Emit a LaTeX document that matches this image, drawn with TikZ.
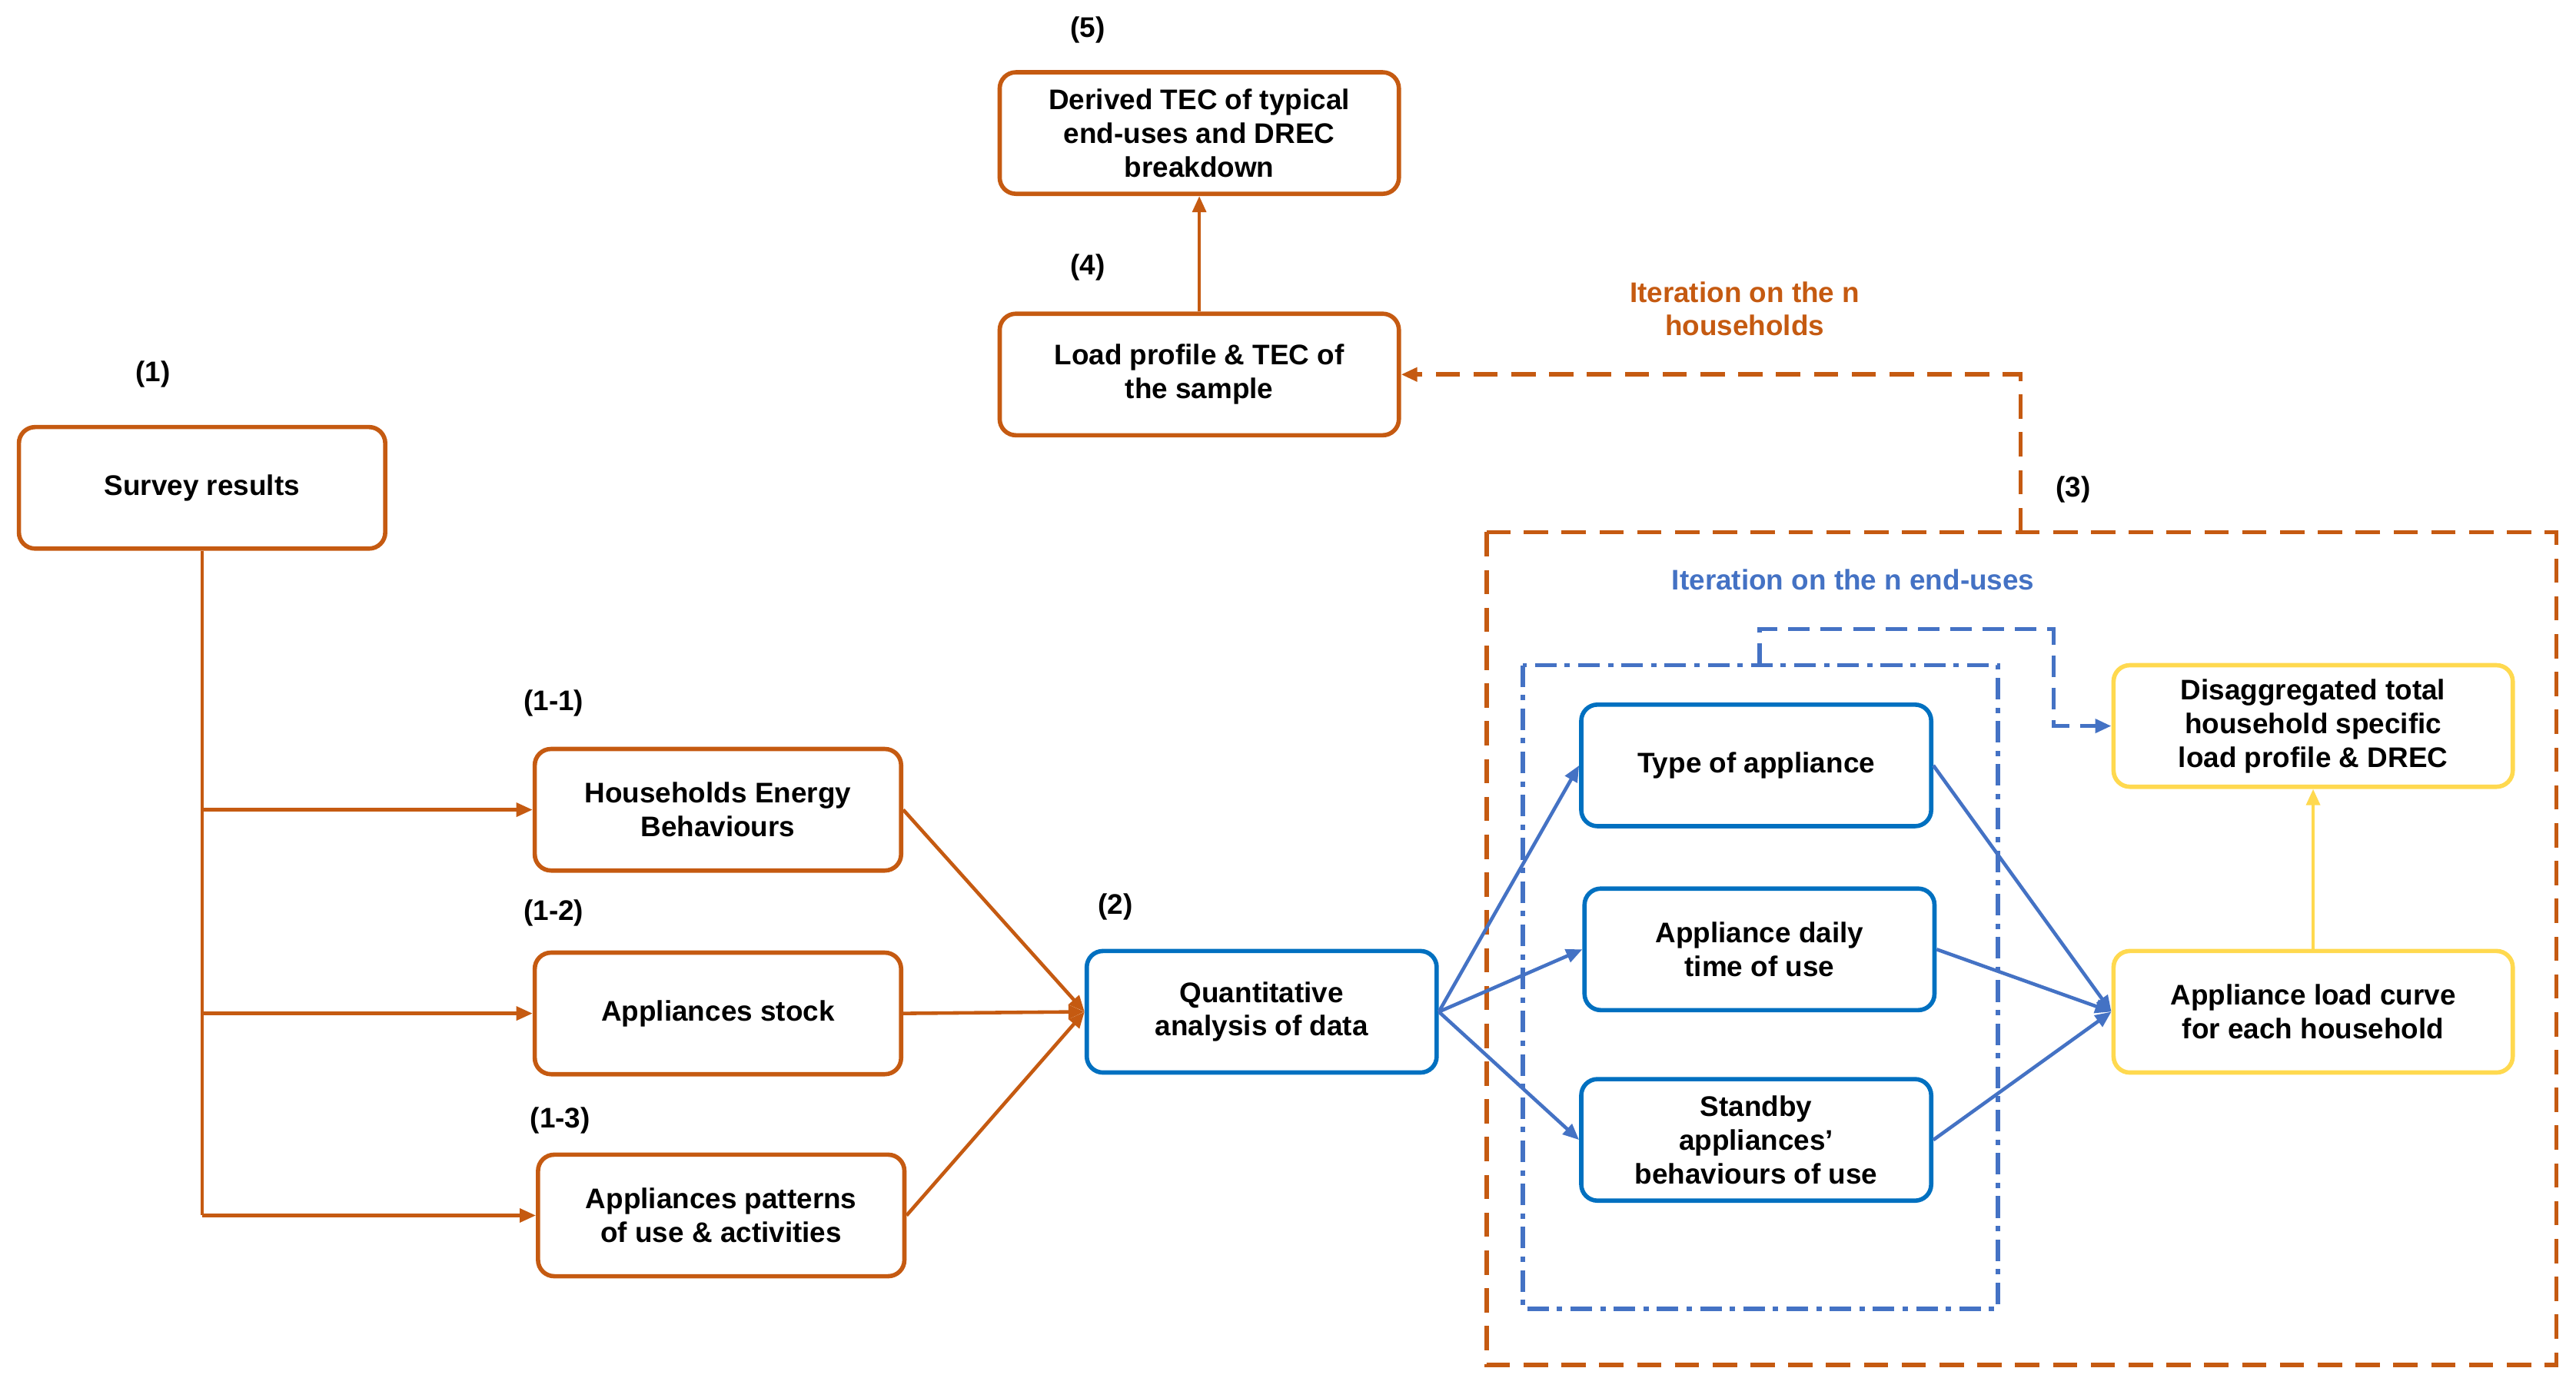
\documentclass[tikz,border=0pt]{standalone}
\usepackage{fontspec}
\setmainfont{Liberation Sans}
\usetikzlibrary{arrows.meta}
\definecolor{org}{HTML}{C55A11}
\definecolor{bbx}{HTML}{0070C0}
\definecolor{barr}{HTML}{4472C4}
\definecolor{yel}{HTML}{FFD94F}
\begin{document}
\begin{tikzpicture}[x=0.02137cm,y=-0.02137cm,
  font=\fontsize{10.5}{12.5}\selectfont\bfseries,
  box/.style={draw, line width=1.6pt, rounded corners=6pt, minimum width=223*0.02137cm, minimum height=74*0.02137cm, align=center, inner sep=1pt},
  obox/.style={box, draw=org},
  bbox/.style={box, draw=bbx, minimum width=213*0.02137cm},
  ybox/.style={box, draw=yel, minimum width=243*0.02137cm},
  lab/.style={font=\fontsize{10.5}{12.5}\selectfont\bfseries},
  oarr/.style={draw=org, line width=1.3pt, -{Triangle[length=6pt,width=5pt]}},
  barrow/.style={draw=barr, line width=1.3pt, -{Triangle[length=6pt,width=5pt]}}]
\useasboundingbox (0,0) rectangle (1568,845);
\node[obox] (s) at (123,297) {Survey results};
\node[lab] (l1) at (93,228) {(1)};
\node[obox] (heb) at (437,493) {Households Energy\\Behaviours};
\node[lab] (l11) at (337,428) {(1-1)};
\node[obox] (as) at (437,617) {Appliances stock};
\node[lab] (l12) at (337,556) {(1-2)};
\node[obox] (ap) at (439,740) {Appliances patterns\\of use \& activities};
\node[lab] (l13) at (341,682) {(1-3)};
\node[bbox] (q) at (768,616) {Quantitative\\analysis of data};
\node[lab] (l2) at (679,552) {(2)};
\node[bbox] (t) at (1069,466) {Type of appliance};
\node[bbox] (d) at (1071,578) {Appliance daily\\time of use};
\node[bbox] (sb) at (1069,694) {Standby\\appliances'\\behaviours of use};
\node[ybox] (dis) at (1408,442) {Disaggregated total\\household specific\\load profile \& DREC};
\node[ybox] (lc) at (1408,616) {Appliance load curve\\for each household};
\node[obox, minimum width=243*0.02137cm] (lp) at (730,228) {Load profile \& TEC of\\the sample};
\node[lab] (l4) at (662,163) {(4)};
\node[obox, minimum width=243*0.02137cm] (dt) at (730,81) {Derived TEC of typical\\end-uses and DREC\\breakdown};
\node[lab] (l5) at (662,18) {(5)};
\node[lab] (l3) at (1262,298) {(3)};
\node[lab, text=org, align=center] (ih) at (1062,188) {Iteration on the n\\households};
\node[lab, text=barr] (ie) at (1128,353) {Iteration on the n end-uses};
% frames
\draw[org, line width=1.6pt, dash pattern=on 9pt off 5pt] (905,324) rectangle (1556,831);
\draw[barr, line width=1.6pt, dash pattern=on 8pt off 3pt on 2pt off 3pt] (927,405) rectangle (1216,797);
\coordinate (c1) at (1230,324);
\draw[org, line width=1.6pt, dash pattern=on 9pt off 5pt, -{Triangle[length=6pt,width=5pt]}] (c1) |- (lp.east);
\coordinate (c2) at (1071,405);
\draw[barr, line width=1.6pt, dash pattern=on 8pt off 4pt, -{Triangle[length=6pt,width=5pt]}] (c2) -- (1071,383) -- (1250,383) |- (dis.west);
% survey tree
\draw[org, line width=1.3pt] (s.south) -- (123,740);
\draw[oarr] (123,493) -- (heb.west);
\draw[oarr] (123,617) -- (as.west);
\draw[oarr] (123,740) -- (ap.west);
\draw[oarr] (heb.east) -- (q.west);
\draw[oarr] (as.east) -- (q.west);
\draw[oarr] (ap.east) -- (q.west);
\draw[oarr] (lp.north) -- (dt.south);
\draw[barrow] (q.east) -- (t.west);
\draw[barrow] (q.east) -- (d.west);
\draw[barrow] (q.east) -- (sb.west);
\draw[barrow] (t.east) -- (lc.west);
\draw[barrow] (d.east) -- (lc.west);
\draw[barrow] (sb.east) -- (lc.west);
\draw[yel, line width=1.3pt, -{Triangle[length=6pt,width=5pt]}] (lc.north) -- (dis.south);
\end{tikzpicture}
\end{document}
